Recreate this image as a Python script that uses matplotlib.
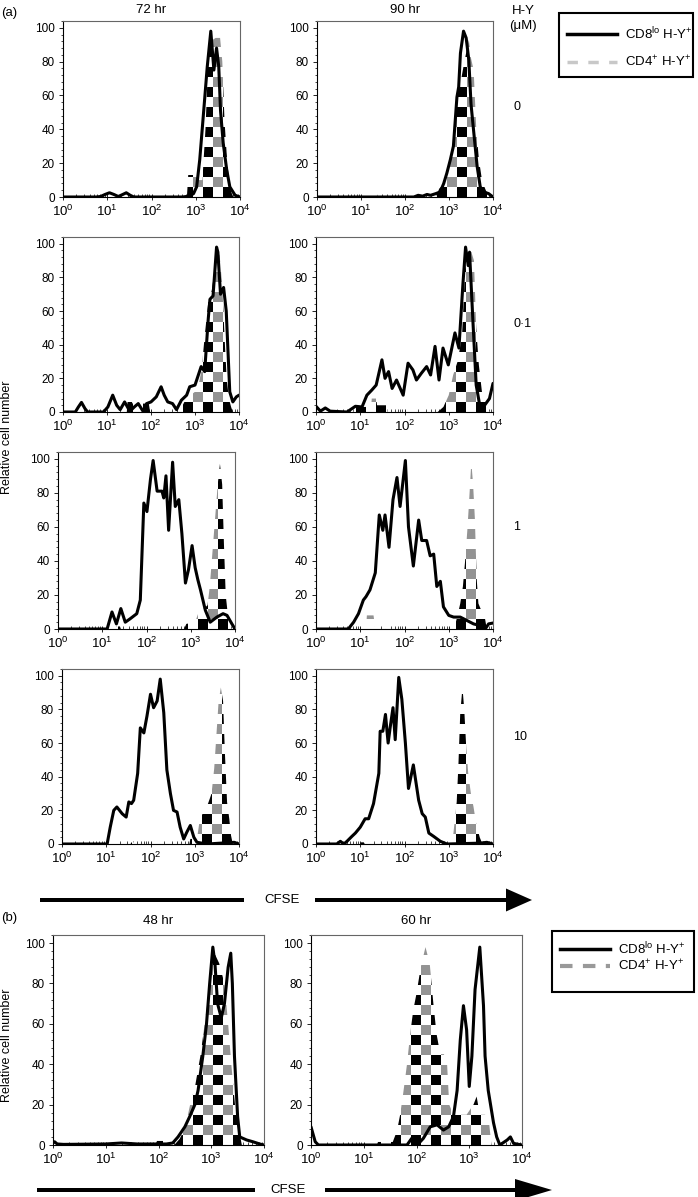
import numpy as np
import matplotlib
matplotlib.use('Agg')
import matplotlib.pyplot as plt
from matplotlib.patches import Polygon, Rectangle
from matplotlib.lines import Line2D
from matplotlib.ticker import MultipleLocator, LogLocator, NullFormatter, FixedLocator

plt.rcParams['font.family'] = ['Liberation Sans', 'DejaVu Sans']
plt.rcParams['mathtext.fontset'] = 'custom'
plt.rcParams['mathtext.rm'] = 'Liberation Sans'
plt.rcParams['mathtext.it'] = 'Liberation Sans:italic'
plt.rcParams['mathtext.bf'] = 'Liberation Sans:bold'

# ---------------- data (x given as log10 CFSE, y = relative cell number) ----------------
# (a) 72 hr, 0 uM
a1_cd8_x = [0, 0.75, 0.85, 0.95, 1.05, 1.15, 1.25, 1.35, 1.43, 1.52, 1.6, 2.7, 2.85, 2.95, 3.02, 3.09, 3.18,
            3.26, 3.34, 3.38, 3.41, 3.47, 3.52, 3.56, 3.62, 3.7, 3.77, 3.89, 4.0]
a1_cd8_y = [0, 0, 0.3, 1.5, 2.5, 1.5, 0.3, 1.5, 2.5, 1.0, 0, 0, 0.5, 2, 6, 22, 51, 77, 98, 85, 75, 88, 77, 51,
            32, 16, 6, 1, 0]
a1_cd4_x = [2.8, 2.83, 3.0, 3.05, 3.15, 3.22, 3.28, 3.33, 3.45, 3.55, 3.6, 3.65, 3.7, 3.75, 3.8, 3.85]
a1_cd4_y = [0, 13, 13, 10, 10, 40, 80, 92, 94, 94, 80, 45, 25, 10, 3, 0]

# (a) 90 hr, 0 uM
a2_cd8_x = [0, 1.1, 2.2, 2.3, 2.4, 2.5, 2.58, 2.7, 2.8, 2.88, 2.95, 3.03, 3.1, 3.18, 3.22, 3.26, 3.33, 3.39,
            3.45, 3.5, 3.56, 3.64, 3.71, 3.79, 3.9, 4.0]
a2_cd8_y = [0, 0, 0, 1, 0.5, 1.5, 1, 2, 3, 8, 14, 22, 30, 59, 65, 85, 98, 94, 81, 55, 39, 18, 6, 3, 2, 0]
a2_cd4_x = [1.15, 1.17, 1.36, 1.38, 2.7, 2.78, 2.9, 3.0, 3.1, 3.2, 3.28, 3.35, 3.45, 3.5, 3.56, 3.62, 3.68,
            3.75, 3.82, 3.9]
a2_cd4_y = [0, 2, 2, 0, 0, 5, 8, 15, 32, 60, 70, 80, 93, 82, 75, 40, 22, 10, 5, 0]

# (a) 72 hr, 0.1 uM
a3_cd8_x = [0, 0.28, 0.35, 0.42, 0.5, 0.56, 0.92, 1.02, 1.13, 1.22, 1.3, 1.4, 1.52, 1.62, 1.71, 1.83, 1.9,
            2.0, 2.12, 2.23, 2.3, 2.38, 2.49, 2.58, 2.69, 2.81, 2.88, 3.0, 3.14, 3.22, 3.3, 3.34, 3.41, 3.49,
            3.52, 3.58, 3.65, 3.71, 3.79, 3.86, 3.94, 4.0]
a3_cd8_y = [0, 0, 3, 5.7, 2, 0, 0, 3, 10, 4, 1.4, 6, 0.4, 3, 5, 0, 5, 6, 9, 15, 10, 6, 5, 1.4, 7, 10, 15, 16,
            27, 24, 55, 67, 69, 98, 95, 70, 74, 60, 12, 6, 9, 10]
a3_cd4_x = [1.45, 1.47, 1.55, 1.58, 1.95, 1.98, 2.65, 2.72, 2.8, 2.9, 3.0, 3.08, 3.15, 3.22, 3.3, 3.38, 3.45,
            3.5, 3.56, 3.62, 3.68, 3.72, 3.77, 3.82, 3.86]
a3_cd4_y = [0, 7, 7, 5, 5, 0, 0, 4, 8, 10, 12, 16, 25, 45, 65, 72, 85, 96, 93, 75, 40, 20, 8, 3, 0]

# (a) 90 hr, 0.1 uM
a4_cd8_x = [0, 0.1, 0.21, 0.32, 0.7, 0.89, 1.04, 1.15, 1.26, 1.36, 1.49, 1.56, 1.64, 1.72, 1.82, 1.97, 2.08,
            2.19, 2.27, 2.38, 2.5, 2.59, 2.69, 2.78, 2.87, 2.99, 3.14, 3.23, 3.32, 3.38, 3.44, 3.47, 3.55,
            3.62, 3.7, 3.81, 3.92, 4.0]
a4_cd8_y = [3.4, 0.5, 2.4, 0.5, 0, 3.4, 3, 10, 13, 16, 31, 20, 24, 14, 19, 10, 29, 25, 19, 23, 27, 22, 39, 19,
            38, 28, 47, 38, 76, 98, 87, 95, 52, 16, 4, 4, 8, 17]
a4_cd4_x = [0.85, 0.87, 1.13, 1.15, 1.24, 1.26, 1.36, 1.38, 1.6, 1.62, 2.75, 2.88, 3.0, 3.1, 3.2, 3.3, 3.37,
            3.43, 3.5, 3.57, 3.62, 3.68, 3.75, 3.85, 3.92]
a4_cd4_y = [0, 3, 3, 0, 0, 8, 8, 4, 4, 0, 0, 3, 10, 22, 30, 45, 85, 97, 96, 90, 50, 28, 12, 6, 0]

# (a) 72 hr, 1 uM
a5_cd8_x = [0, 1.11, 1.22, 1.32, 1.42, 1.52, 1.63, 1.78, 1.86, 1.94, 2.01, 2.09, 2.15, 2.24, 2.35, 2.39, 2.44,
            2.5, 2.59, 2.65, 2.73, 2.8, 2.88, 2.95, 3.03, 3.1, 3.16, 3.22, 3.33, 3.44, 3.59, 3.73, 3.82, 3.93,
            4.0]
a5_cd8_y = [0, 0, 10, 3, 12, 4, 6, 9, 17, 74, 69, 88, 99, 81, 81, 77, 90, 58, 98, 72, 76, 56, 27, 35, 49, 36,
            29, 23, 11, 4, 7, 9, 8, 3, 0]
a5_cd4_x = [1.2, 1.22, 1.4, 1.42, 2.85, 2.9, 3.1, 3.18, 3.3, 3.38, 3.43, 3.49, 3.55, 3.61, 3.66, 3.71, 3.75,
            3.79, 3.84, 3.92]
a5_cd4_y = [0, 1.5, 1.5, 0, 0, 3, 4, 10, 12, 14, 25, 45, 65, 85, 97, 85, 50, 20, 8, 0]

# (a) 90 hr, 1 uM
a6_cd8_x = [0, 0.73, 0.85, 0.96, 1.07, 1.13, 1.22, 1.34, 1.43, 1.51, 1.56, 1.65, 1.74, 1.83, 1.9, 2.02, 2.09,
            2.2, 2.32, 2.39, 2.5, 2.58, 2.66, 2.73, 2.81, 2.88, 3.0, 3.11, 3.26, 3.41, 3.56, 3.71, 3.83, 3.9,
            4.0]
a6_cd8_y = [0, 0, 4, 9, 17, 19, 23, 33, 67, 58, 67, 48, 76, 89, 72, 99, 60, 37, 64, 52, 52, 43, 44, 25, 28,
            13, 8, 7, 7, 5, 3, 2, 0.2, 3, 3.5]
a6_cd4_x = [1.13, 1.15, 1.3, 1.34, 1.58, 1.6, 1.66, 1.7, 3.12, 3.2, 3.26, 3.32, 3.37, 3.42, 3.46, 3.51,
            3.55, 3.59, 3.63, 3.67, 3.75, 3.82, 3.86]
a6_cd4_y = [0, 8, 8, 0, 0, 3, 2, 0, 0, 8, 15, 25, 40, 58, 75, 98, 85, 65, 30, 15, 10, 6, 0]

# (a) 72 hr, 10 uM
a7_cd8_x = [0, 1.02, 1.09, 1.17, 1.24, 1.36, 1.45, 1.51, 1.57, 1.62, 1.71, 1.77, 1.85, 1.92, 2.0, 2.07, 2.15,
            2.22, 2.3, 2.37, 2.45, 2.52, 2.6, 2.67, 2.75, 2.82, 2.9, 2.98, 3.05, 3.28, 3.89, 4.0]
a7_cd8_y = [0, 0, 10, 20, 22, 18, 16, 25, 24, 26, 42, 69, 66, 76, 89, 81, 85, 98, 78, 44, 30, 20, 19, 10, 3,
            7, 11, 4, 1, 0, 1, 0]
a7_cd4_x = [1.15, 1.17, 1.28, 1.3, 1.55, 1.57, 1.63, 1.65, 2.88, 2.9, 3.05, 3.1, 3.2, 3.3, 3.38, 3.44, 3.49,
            3.54, 3.59, 3.64, 3.68, 3.73, 3.78, 3.82, 3.86]
a7_cd4_y = [0, 2, 2, 0, 0, 1, 1, 0, 0, 3, 3, 12, 20, 24, 30, 45, 65, 85, 93, 85, 55, 25, 15, 5, 0]

# (a) 90 hr, 10 uM
a8_cd8_x = [0, 0.47, 0.55, 0.63, 0.7, 0.81, 0.89, 1.0, 1.11, 1.19, 1.3, 1.42, 1.45, 1.51, 1.57, 1.63, 1.68,
            1.74, 1.79, 1.87, 1.94, 2.02, 2.09, 2.2, 2.32, 2.4, 2.47, 2.55, 2.66, 2.81, 2.96, 3.71, 3.86, 4.0]
a8_cd8_y = [0, 0, 1.6, 0, 1.6, 4.5, 6.5, 10, 15, 15, 24, 42, 67, 67, 77, 60, 70, 81, 62, 99, 86, 60, 33, 47,
            26, 18, 16, 6.5, 4.5, 1.6, 0, 0.5, 1, 0]
a8_cd4_x = [1.0, 1.02, 1.08, 1.1, 2.98, 3.0, 3.1, 3.14, 3.18, 3.22, 3.26, 3.31, 3.35, 3.39, 3.44, 3.5, 3.56,
            3.62, 3.7, 3.76]
a8_cd4_y = [0, 1, 1, 0, 0, 3, 5, 15, 25, 48, 78, 93, 80, 60, 42, 30, 22, 12, 4, 0]

# (b) 48 hr
b1_cd8_x = [0, 0.03, 0.08, 0.2, 1.0, 1.3, 1.6, 2.0, 2.15, 2.27, 2.37, 2.5, 2.59, 2.69, 2.75, 2.84, 2.91, 2.97,
            3.03, 3.07, 3.12, 3.19, 3.25, 3.32, 3.37, 3.4, 3.44, 3.5, 3.54, 3.67, 3.79, 3.92, 4.0]
b1_cd8_y = [1, 1.6, 0.5, 0.3, 0.5, 1, 0.5, 0.5, 0.5, 1, 4, 9, 14, 20, 27, 44, 60, 80, 98, 90, 70, 63, 70, 88,
            95, 80, 44, 14, 4, 2.5, 1.6, 0.5, 0]
b1_cd4_x = [1.95, 1.97, 2.15, 2.2, 2.3, 2.4, 2.5, 2.6, 2.7, 2.8, 2.9, 3.0, 3.06, 3.15, 3.25, 3.32, 3.38, 3.45,
            3.52, 3.58]
b1_cd4_y = [0, 2, 2, 0, 0, 3, 8, 20, 30, 45, 65, 85, 95, 90, 80, 60, 40, 20, 8, 0]

# (b) 60 hr
b2_cd8_x = [0, 0.08, 0.14, 1.82, 1.91, 2.01, 2.07, 2.13, 2.26, 2.39, 2.51, 2.61, 2.7, 2.77, 2.83, 2.89, 2.95,
            3.0, 3.05, 3.11, 3.2, 3.27, 3.3, 3.36, 3.46, 3.52, 3.58, 3.72, 3.78, 3.84, 4.0]
b2_cd8_y = [9, 1.6, 0, 0, 3.3, 4, 1.6, 3.3, 9, 10, 7.4, 9, 14, 27, 52, 69, 57, 29, 44, 77, 98, 69, 44, 27, 11,
            4, 0, 2.5, 4, 0.8, 0]
b2_cd4_x = [1.25, 1.27, 1.55, 1.63, 1.69, 1.75, 1.82, 1.88, 1.94, 2.0, 2.08, 2.17, 2.25, 2.32, 2.38, 2.45,
            2.52, 2.58, 2.62, 2.7, 2.8, 2.95, 3.08, 3.14, 3.2, 3.3, 3.38, 3.42]
b2_cd4_y = [0, 1.5, 1.5, 7, 15, 26, 40, 55, 67, 75, 88, 98, 90, 70, 55, 45, 45, 40, 20, 15, 15, 15, 20, 24,
            15, 15, 10, 0]

yticks = [0, 20, 40, 60, 80, 100]
xtick_labels = [r'$10^{0}$', r'$10^{1}$', r'$10^{2}$', r'$10^{3}$', r'$10^{4}$']
conc_labels = ['0', '0·1', '1', '10']
titles_a = ['72 hr', '90 hr']
titles_b = ['48 hr', '60 hr']

# ---------------- figure ----------------
W, H = 698, 1197
fig = plt.figure(figsize=(W / 100, H / 100), dpi=100)
fig.patch.set_facecolor('white')


def fx(px):
    return px / W


def fy(py):
    return 1 - py / H


def add_axes_px(left, right, top, bottom):
    return fig.add_axes([left / W, 1 - bottom / H, (right - left) / W, (bottom - top) / H])


CELL = 10
GRAY = 0.58
TICKFS = 8.5
XTICKFS = 9.5


def checker(ax, lx, ly):
    bb = ax.get_position()
    wpx = int(round(bb.width * W))
    hpx = int(round(bb.height * H))
    I, J = np.meshgrid(np.arange(hpx) // CELL, np.arange(wpx) // CELL, indexing='ij')
    img = np.ones((hpx, wpx, 3))
    on = (I + J) % 2 == 0
    img[on & (I % 2 == 0)] = 0.0
    img[on & (I % 2 == 1)] = GRAY
    im = ax.imshow(img, origin='lower', extent=(0, 1, 0, 1), transform=ax.transAxes,
                   interpolation='nearest', aspect='auto', zorder=2)
    xs = [10 ** v for v in lx]
    verts = list(zip(xs, ly)) + [(xs[-1], 0), (xs[0], 0)]
    poly = Polygon(verts, closed=True, transform=ax.transData, fc='none', ec='none')
    ax.add_patch(poly)
    im.set_clip_path(poly)


def panel(ax, cd8x, cd8y, cd4x, cd4y):
    checker(ax, cd4x, cd4y)
    ax.plot([10 ** v for v in cd8x], cd8y, color='black', lw=2.2, zorder=3,
            solid_joinstyle='round', solid_capstyle='round')
    ax.set_xscale('log')
    ax.set_xlim(1, 1e4)
    ax.set_ylim(0, 104)
    ax.set_yticks(yticks)
    ax.set_yticklabels([str(v) for v in yticks], fontsize=TICKFS)
    ax.yaxis.set_minor_locator(MultipleLocator(4))
    ax.xaxis.set_major_locator(FixedLocator([1, 10, 100, 1000, 10000]))
    ax.set_xticklabels(xtick_labels, fontsize=XTICKFS)
    ax.xaxis.set_minor_locator(LogLocator(base=10, subs=np.arange(2, 10), numticks=12))
    ax.xaxis.set_minor_formatter(NullFormatter())
    ax.tick_params(axis='y', which='major', direction='out', length=3, width=0.6, pad=3)
    ax.tick_params(axis='y', which='minor', direction='out', length=1.5, width=0.5)
    ax.tick_params(axis='x', which='major', direction='inout', length=4, width=0.6, pad=3)
    ax.tick_params(axis='x', which='minor', direction='in', length=2, width=0.5)
    for s in ['left', 'bottom']:
        ax.spines[s].set_color('black')
        ax.spines[s].set_linewidth(0.8)
    for s in ['top', 'right']:
        ax.spines[s].set_color('#666666')
        ax.spines[s].set_linewidth(0.8)


# panel (a) axes positions in pixels (left, right, top, bottom)
pos_a = [
    [(63, 240, 21, 197), (317, 493, 21, 197)],
    [(63, 239, 237, 412), (316, 493, 237, 412)],
    [(58, 235, 452, 629), (316, 493, 452, 629)],
    [(62, 239, 669, 844), (316, 493, 669, 844)],
]
data_a = [
    [(a1_cd8_x, a1_cd8_y, a1_cd4_x, a1_cd4_y), (a2_cd8_x, a2_cd8_y, a2_cd4_x, a2_cd4_y)],
    [(a3_cd8_x, a3_cd8_y, a3_cd4_x, a3_cd4_y), (a4_cd8_x, a4_cd8_y, a4_cd4_x, a4_cd4_y)],
    [(a5_cd8_x, a5_cd8_y, a5_cd4_x, a5_cd4_y), (a6_cd8_x, a6_cd8_y, a6_cd4_x, a6_cd4_y)],
    [(a7_cd8_x, a7_cd8_y, a7_cd4_x, a7_cd4_y), (a8_cd8_x, a8_cd8_y, a8_cd4_x, a8_cd4_y)],
]
for r in range(4):
    for c in range(2):
        ax = add_axes_px(*pos_a[r][c])
        panel(ax, *data_a[r][c])

conc_y = [107, 324, 527, 737]
for lab, yy in zip(conc_labels, conc_y):
    fig.text(fx(513), fy(yy), lab, ha='left', va='center', fontsize=9)

fig.text(fx(151), fy(10), titles_a[0], ha='center', va='center', fontsize=9.5)
fig.text(fx(405), fy(10), titles_a[1], ha='center', va='center', fontsize=9.5)
fig.text(fx(1), fy(13), '(a)', ha='left', va='center', fontsize=9.5)
fig.text(fx(523), fy(11), 'H-Y', ha='center', va='center', fontsize=9.5)
fig.text(fx(523), fy(26), '(μM)', ha='center', va='center', fontsize=9.5)
fig.text(fx(7), fy(437), 'Relative cell number', rotation=90, ha='center', va='center', fontsize=9)

# panel (b)
pos_b = [(53, 264, 935, 1145), (311, 522, 935, 1145)]
data_b = [(b1_cd8_x, b1_cd8_y, b1_cd4_x, b1_cd4_y), (b2_cd8_x, b2_cd8_y, b2_cd4_x, b2_cd4_y)]
for c in range(2):
    ax = add_axes_px(*pos_b[c])
    panel(ax, *data_b[c])
fig.text(fx(158), fy(921), titles_b[0], ha='center', va='center', fontsize=9.5)
fig.text(fx(416), fy(921), titles_b[1], ha='center', va='center', fontsize=9.5)
fig.text(fx(1), fy(918), '(b)', ha='left', va='center', fontsize=9.5)
fig.text(fx(7), fy(1045), 'Relative cell number', rotation=90, ha='center', va='center', fontsize=9)


# legends
def legend_box(x0, x1, y0, y1, y_l1, y_l2, cd4_color, cd4_dash, cd4_lw):
    fig.add_artist(Rectangle((fx(x0), fy(y1)), fx(x1 - x0), (y1 - y0) / H, transform=fig.transFigure,
                             fill=False, ec='black', lw=1.5))
    fig.add_artist(Line2D([fx(x0 + 8), fx(x0 + 58)], [fy(y_l1), fy(y_l1)], transform=fig.transFigure,
                          color='black', lw=2.5))
    fig.add_artist(Line2D([fx(x0 + 8), fx(x0 + 58)], [fy(y_l2), fy(y_l2)], transform=fig.transFigure,
                          color=cd4_color, lw=cd4_lw, dashes=cd4_dash))
    fig.text(fx(x0 + 66), fy(y_l1), r'CD8$^{\mathrm{lo}}$ H-Y$^{+}$', ha='left', va='center', fontsize=9.5)
    fig.text(fx(x0 + 66), fy(y_l2), r'CD4$^{+}$ H-Y$^{+}$', ha='left', va='center', fontsize=9.5)


legend_box(559, 693, 13, 77, 34, 62, '#c8c8c8', (3, 3), 2.5)
legend_box(552, 694, 931, 992, 949, 966, '#999999', (3, 2.5), 3)


# CFSE arrows
def cfse_arrow(bar1, bar2, head_end, ytxt, xtxt, head_h=23, thick=4.5):
    y = ytxt
    fig.add_artist(Rectangle((fx(bar1[0]), fy(y + thick / 2)), fx(bar1[1] - bar1[0]), thick / H,
                             transform=fig.transFigure, fc='black', ec='none'))
    fig.add_artist(Rectangle((fx(bar2[0]), fy(y + thick / 2)), fx(bar2[1] - bar2[0]), thick / H,
                             transform=fig.transFigure, fc='black', ec='none'))
    fig.add_artist(Polygon([(fx(bar2[1]), fy(y - head_h / 2)), (fx(bar2[1]), fy(y + head_h / 2)),
                            (fx(head_end), fy(y))], closed=True, transform=fig.transFigure,
                           fc='black', ec='none'))
    fig.text(fx(xtxt), fy(y), 'CFSE', ha='center', va='center', fontsize=9.5)


cfse_arrow((40, 244), (315, 506), 532, 900, 282)
cfse_arrow((37, 255), (325, 515), 552, 1190, 288, head_h=22)

fig.savefig('out.png', dpi=100)
